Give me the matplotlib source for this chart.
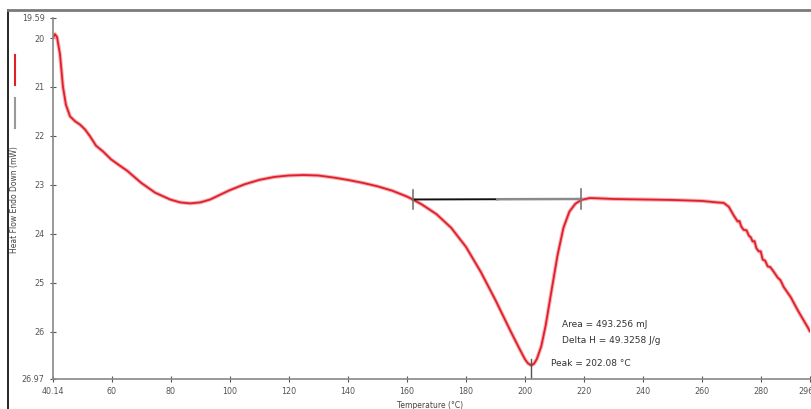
import numpy as np
import matplotlib.pyplot as plt
from matplotlib.lines import Line2D

# DSC scan
temp = [40.14, 40.8, 41.5, 42.5, 43.5, 44.5, 45.9, 47.6, 49.3, 51.0, 52.7, 54.7, 57.1, 59.8,
        62.8, 65.2, 70.0, 74.7, 79.8, 83.2, 86.6, 90.0, 93.4, 96.5, 100.0, 105.0, 110.0, 115.0,
        120.0, 125.0, 130.0, 135.0, 140.0, 145.0, 150.0, 155.0, 160.0, 162.0, 165.0, 170.0,
        175.0, 180.0, 185.0, 190.0, 195.0, 198.0, 200.0, 201.0, 202.08, 203.0, 204.0, 205.5,
        207.0, 209.0, 211.0, 213.0, 215.0, 217.0, 219.0, 222.0, 230.0, 240.0, 250.0, 260.0,
        265.0, 267.3, 269.0, 270.7, 272.0, 272.6, 273.2, 274.0, 275.0, 275.8, 276.4, 277.1,
        277.7, 278.3, 279.1, 279.8, 280.5, 281.3, 282.2, 283.0, 283.9, 285.6, 286.5, 287.6,
        290.0, 292.3, 295.7, 296.5]
heat_flow = [20.0, 19.92, 19.98, 20.33, 20.99, 21.36, 21.6, 21.7, 21.77, 21.87, 22.01, 22.2,
             22.32, 22.48, 22.61, 22.71, 22.96, 23.16, 23.3, 23.36, 23.38, 23.36, 23.3, 23.21,
             23.11, 22.99, 22.9, 22.84, 22.81, 22.8, 22.81, 22.85, 22.9, 22.96, 23.03, 23.12,
             23.24, 23.3, 23.4, 23.6, 23.88, 24.27, 24.78, 25.36, 25.98, 26.34, 26.57, 26.65,
             26.69, 26.66, 26.56, 26.3, 25.87, 25.15, 24.44, 23.88, 23.55, 23.39, 23.31, 23.27,
             23.29, 23.30, 23.31, 23.33, 23.36, 23.37, 23.45, 23.63, 23.75, 23.74, 23.85, 23.92,
             23.93, 24.04, 24.07, 24.16, 24.15, 24.29, 24.36, 24.36, 24.53, 24.55, 24.67, 24.68,
             24.75, 24.9, 24.95, 25.09, 25.3, 25.56, 25.91, 26.0]

base_t = [162.0, 190.6, 219.0]
base_hf = [23.30, 23.295, 23.29]
peak_t = 202.08
peak_hf = 26.69

xticks = [40.14, 60, 80, 100, 120, 140, 160, 180, 200, 220, 240, 260, 280, 296.5]
xlabels = ['40.14', '60', '80', '100', '120', '140', '160', '180', '200', '220', '240', '260', '280', '296.5']
yticks = [19.59, 20, 21, 22, 23, 24, 25, 26, 26.97]
ylabels = ['19.59', '20', '21', '22', '23', '24', '25', '26', '26.97']

W, H = 812, 409
fig = plt.figure(figsize=(W / 100, H / 100), dpi=100)
ax = fig.add_axes([53 / W, (H - 379) / H, 757 / W, 361 / H])

# curve with a soft halo like the original
ax.plot(temp, heat_flow, color='#f6b0b3', lw=2.8, solid_capstyle='round', solid_joinstyle='round')
ax.plot(temp, heat_flow, color='#e01f2b', lw=1.3, solid_capstyle='round', solid_joinstyle='round')

# integration baseline: black then grey part
ax.plot(base_t[:2], base_hf[:2], color='#111111', lw=1.4)
ax.plot(base_t[1:], base_hf[1:], color='#8a8a8a', lw=1.8)
for t, h in [(base_t[0], base_hf[0]), (base_t[-1], base_hf[-1])]:
    ax.plot([t, t], [h - 0.2, h + 0.2], color='#777777', lw=1.2)
ax.plot([peak_t, peak_t], [peak_hf - 0.12, peak_hf + 0.25], color='#555555', lw=1.0)

ax.text(212.5, 25.86, 'Area = 493.256 mJ', fontsize=6.5, color='#333333', va='center')
ax.text(212.5, 26.19, 'Delta H = 49.3258 J/g', fontsize=6.5, color='#333333', va='center')
ax.text(208.7, 26.65, 'Peak = 202.08 °C', fontsize=6.5, color='#333333', va='center')

ax.set_xlim(40.14, 296.5)
ax.set_ylim(26.97, 19.59)
ax.set_xticks(xticks)
ax.set_xticklabels(xlabels)
ax.set_yticks(yticks)
ax.set_yticklabels(ylabels)
ax.tick_params(labelsize=5.8, colors='#555555', direction='inout', length=4, width=0.8, pad=4)
for s in ['top', 'right']:
    ax.spines[s].set_visible(False)
for s in ['left', 'bottom']:
    ax.spines[s].set_color('#888888')
    ax.spines[s].set_linewidth(1.2)

# outer frame (cropped) and the little key along the y label
fig.add_artist(Line2D([8 / W, 8 / W], [0, 1 - 10 / H], color='black', lw=1.2))
fig.add_artist(Line2D([8 / W, 1], [1 - 10 / H, 1 - 10 / H], color='#7a7a7a', lw=2.0))
fig.add_artist(Line2D([15 / W, 15 / W], [1 - 55 / H, 1 - 85 / H], color='#e01f2b', lw=1.5))
fig.add_artist(Line2D([15 / W, 15 / W], [1 - 98 / H, 1 - 128 / H], color='#999999', lw=1.5))
fig.text(15 / W, 1 - 200 / H, 'Heat Flow Endo Down (mW)', rotation=90, fontsize=5.5,
         color='#444444', ha='center', va='center')
fig.text(430 / W, 1 - 406 / H, 'Temperature (°C)', fontsize=5.5, color='#444444',
         ha='center', va='center')

fig.savefig('out.png', dpi=100)
